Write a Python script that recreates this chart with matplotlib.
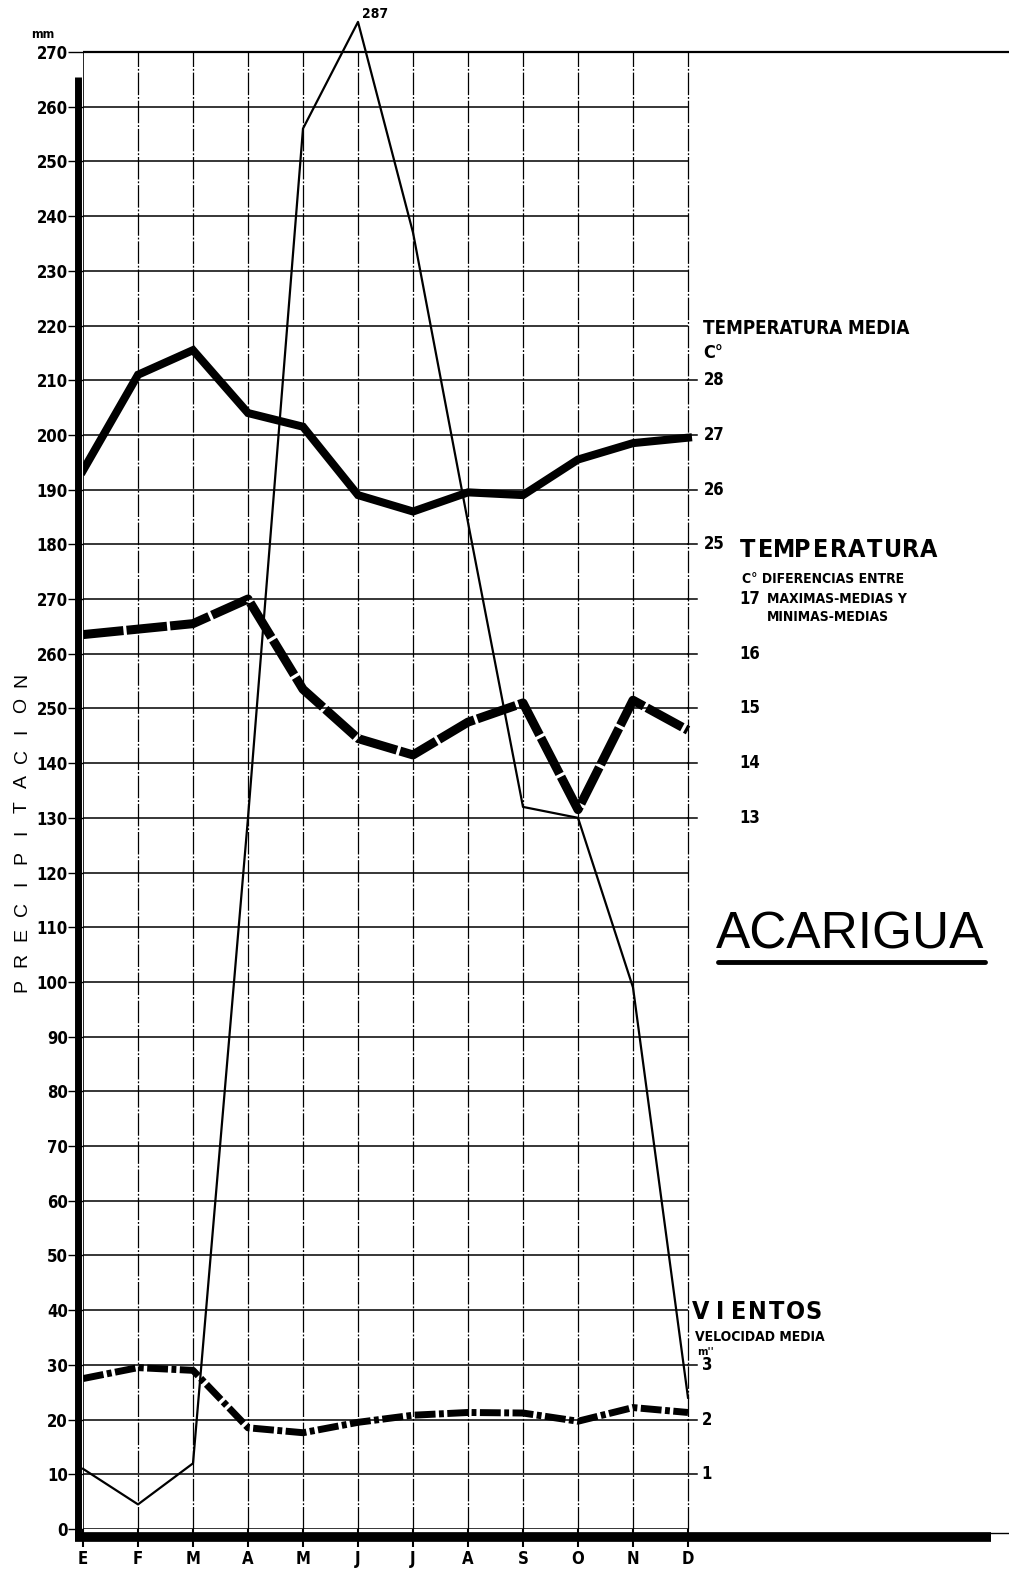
import matplotlib
matplotlib.use('Agg')
import matplotlib.pyplot as plt
from matplotlib import font_manager
from matplotlib.lines import Line2D

# monthly climate data, Acarigua
months = ['E', 'F', 'M', 'A', 'M', 'J', 'J', 'A', 'S', 'O', 'N', 'D']
precip_mm = [11, 4.5, 12, 130, 256, 275.5, 237, 184, 132, 130, 99, 24]
peak_label = '287'
temp_media = [26.35, 28.1, 28.55, 27.4, 27.15, 25.9, 25.6, 25.95, 25.9, 26.55, 26.85, 26.95]
temp_dif = [16.35, 16.45, 16.55, 17.0, 15.35, 14.45, 14.15, 14.75, 15.1, 13.15, 15.15, 14.6]
viento = [2.75, 2.95, 2.9, 1.85, 1.76, 1.95, 2.08, 2.13, 2.12, 1.97, 2.22, 2.13]

precip_ticks = list(range(0, 280, 10))
precip_ticklabels = ['0', '10', '20', '30', '40', '50', '60', '70', '80', '90', '100',
                     '110', '120', '130', '140', '250', '260', '270', '180', '190',
                     '200', '210', '220', '230', '240', '250', '260', '270']
media_ticks = [25, 26, 27, 28]
dif_ticks = [13, 14, 15, 16, 17]
viento_ticks = [1, 2, 3]

# the other scales share the precipitation grid
def t_media(t):
    return 200 + (t - 27) * 10

def t_dif(d):
    return d * 10

def v_scale(v):
    return v * 10

# look for a narrow bold face, else squeeze DejaVu by size
narrow_file = None
for f in font_manager.fontManager.ttflist:
    bold = f.weight in ('bold', 700, '700')
    thin = f.stretch in ('condensed', 'semi-condensed', 'extra-condensed') or 'Narrow' in f.name or 'Condensed' in f.name
    if bold and thin:
        narrow_file = f.fname
        break

def cfont(size):
    if narrow_file:
        return font_manager.FontProperties(fname=narrow_file, size=size)
    return font_manager.FontProperties(family='DejaVu Sans', weight='bold', size=size * 0.8)

W, H = 1009, 1570

def fx(px):
    return px / W

def fy(py):
    return 1 - py / H

fig = plt.figure(figsize=(W / 100, H / 100), dpi=100)
ax = fig.add_axes([fx(83), 41 / H, (W - 83) / W, (1529 - 52) / H])
xmax = (W - 83) / 55
ax.set_xlim(0, xmax)
ax.set_ylim(0, 270)
for s in ax.spines.values():
    s.set_visible(False)

x = list(range(12))

# grid
ax.hlines(precip_ticks[:-1], 0, 11, color='k', lw=1.1, zorder=1)
ax.hlines(270, 0, xmax, color='k', lw=1.6, zorder=1, clip_on=False)
for i in x[1:]:
    ax.plot([i, i], [0, 270], color='k', lw=0.9, ls=(0, (18, 1.5, 1.5, 1.5)), zorder=1)
ax.plot([0, 0], [0, 270], color='k', lw=1.2, zorder=1)

# heavy frame bars
ax.plot([-0.09, -0.09], [-1.5, 265.5], color='k', lw=5, solid_capstyle='butt', clip_on=False, zorder=3)
ax.plot([-0.15, 16.5], [-1.5, -1.5], color='k', lw=7, solid_capstyle='butt', clip_on=False, zorder=3)
ax.plot([16.5, xmax], [-0.8, -0.8], color='k', lw=1, clip_on=False, zorder=3)

# right-hand scale ticks
for t in media_ticks:
    ax.plot([11, 11.16], [t_media(t)] * 2, color='k', lw=1.1, clip_on=False)
    ax.text(11.29, t_media(t), str(t), ha='left', va='center', fontproperties=cfont(12))
for d in dif_ticks:
    ax.plot([11, 11.16], [t_dif(d)] * 2, color='k', lw=1.1, clip_on=False)
    ax.text(11.93, t_dif(d), str(d), ha='left', va='center', fontproperties=cfont(12))
for v in viento_ticks:
    ax.plot([11, 11.16], [v_scale(v)] * 2, color='k', lw=1.1, clip_on=False)
    ax.text(11.25, v_scale(v), str(v), ha='left', va='center', fontproperties=cfont(12))

# series
ax.plot(x, precip_mm, color='k', lw=1.6, clip_on=False, zorder=4)
ax.annotate(peak_label, (5, precip_mm[5]), xytext=(3, 1), textcoords='offset points',
            fontproperties=cfont(10), va='bottom', annotation_clip=False)
ax.plot(x, [t_media(t) for t in temp_media], color='k', lw=5.8, solid_joinstyle='miter', zorder=5)
ax.plot(x, [t_dif(d) for d in temp_dif], color='k', lw=6.5, dashes=(4.5, 0.35), zorder=5)
ax.plot(x, [v_scale(v) for v in viento], color='k', lw=5, dashes=(3, 0.5, 0.7, 0.5), zorder=5)

# axes ticks
ax.set_yticks(precip_ticks, precip_ticklabels)
ax.set_xticks(x, months)
ax.tick_params(axis='y', direction='out', length=11, width=1, pad=0)
ax.tick_params(axis='x', direction='out', length=13, width=1.5, pad=2)
for lab in ax.get_yticklabels():
    lab.set_fontproperties(cfont(12))
for lab in ax.get_xticklabels():
    lab.set_fontproperties(cfont(12))

# labels
fig.text(fx(43), fy(35), 'mm', ha='center', va='center', fontproperties=cfont(9))

def spaced(xc0, y, s, step, fp):
    for i, ch in enumerate(s):
        fig.text(fx(xc0 + i * step), fy(y), ch, ha='center', va='center', fontproperties=fp)

for i, ch in enumerate('PRECIPITACION'):
    fig.text(fx(22), fy(985 - i * 25.4), ch, rotation=90, ha='center', va='center',
             fontsize=14, family='Liberation Sans')

fig.text(fx(703), fy(328), 'TEMPERATURA MEDIA', ha='left', va='center', fontproperties=cfont(13.5))
fig.text(fx(703), fy(353), 'C°', ha='left', va='center', fontproperties=cfont(13))

spaced(748, 550, 'TEMPERATURA', 18.1, cfont(18))
fig.text(fx(742), fy(579), 'C° DIFERENCIAS ENTRE', ha='left', va='center', fontproperties=cfont(10))
fig.text(fx(767), fy(599), 'MAXIMAS-MEDIAS Y', ha='left', va='center', fontproperties=cfont(10))
fig.text(fx(767), fy(617), 'MINIMAS-MEDIAS', ha='left', va='center', fontproperties=cfont(10))

fig.text(fx(716), fy(935), 'ACARIGUA', ha='left', va='center', fontsize=37, family='Liberation Sans')
fig.add_artist(Line2D([fx(718), fx(985)], [fy(962), fy(962)], color='k', lw=3.5, solid_capstyle='round'))

spaced(701, 1312, 'VIENTOS', 18.8, cfont(18))
fig.text(fx(695), fy(1337), 'VELOCIDAD MEDIA', ha='left', va='center', fontproperties=cfont(10))
fig.text(fx(697), fy(1352), "m''", ha='left', va='center', fontproperties=cfont(8))

fig.savefig('out.png', dpi=100, facecolor='white')
